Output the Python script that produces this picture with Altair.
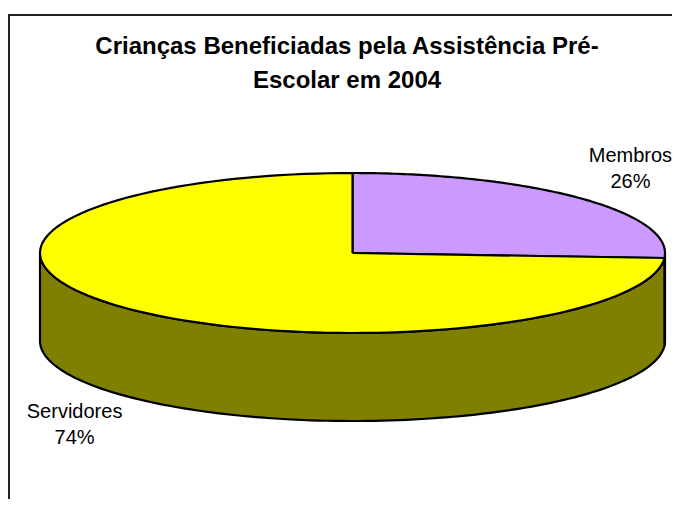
import altair as alt
import pandas as pd

# ---- data ----
categorias = ["Membros", "Servidores"]
valores = [26, 74]
ordem = [0, 1]
cores_topo = ["#CC99FF", "#FFFF00"]
cores_lado = ["#664C80", "#808000"]
titulo = ["Crianças Beneficiadas pela Assistência Pré-", "Escolar em 2004"]

df = pd.DataFrame({"categoria": categorias, "valor": valores, "ordem": ordem})

# ---- geometry of the 3-D pie (layout constants, page pixels) ----
CX, CY, RX, RY, DEPTH = 352.5, 253, 312.5, 80, 88
KX, KY = 1.22, 1.53
N = 120
PAD_TOP = 100
W, H = 664, 491 - PAD_TOP
FONT = "Liberation Sans"

xs = alt.Scale(domain=[8, 672], nice=False, zero=False)
ys = alt.Scale(domain=[8 + PAD_TOP, 499], nice=False, zero=False, reverse=True)

base = (
    alt.Chart(df)
    .transform_joinaggregate(total="sum(valor)")
    .transform_window(cum="sum(valor)", sort=[alt.SortField("ordem")], frame=[None, 0])
    .transform_calculate(a0="2*PI*(datum.cum - datum.valor)/datum.total")
    .transform_calculate(a1="2*PI*datum.cum/datum.total")
)

enc_xy = dict(
    x=alt.X("px:Q", scale=xs, axis=None),
    y=alt.Y("py:Q", scale=ys, axis=None),
    order=alt.Order("s:Q"),
)

# side (visible front part of the cylinder)
lado = (
    base.transform_calculate(b0="max(datum.a0, PI/2)")
    .transform_calculate(b1="min(datum.a1, 3*PI/2)")
    .transform_filter("datum.b1 > datum.b0")
    .transform_calculate(s=f"sequence(0, {2 * N + 3})")
    .transform_flatten(["s"])
    .transform_calculate(
        t=f"datum.s <= {N} ? datum.s : (datum.s <= {2 * N + 1} ? {2 * N + 1} - datum.s : 0)"
    )
    .transform_calculate(baixo=f"datum.s > {N} && datum.s <= {2 * N + 1}")
    .transform_calculate(ang=f"datum.b0 + (datum.b1 - datum.b0)*datum.t/{N}")
    .transform_calculate(px=f"{CX} + {RX}*sin(datum.ang)")
    .transform_calculate(py=f"{CY} - {RY}*cos(datum.ang) + (datum.baixo ? {DEPTH} : 0)")
    .mark_line(filled=True, stroke="black", strokeWidth=2.2, strokeJoin="round")
    .encode(
        color=alt.Color("categoria:N", scale=alt.Scale(domain=categorias, range=cores_lado), legend=None),
        **enc_xy,
    )
)

# top face slices
topo = (
    base.transform_calculate(s=f"sequence(-1, {N + 2})")
    .transform_flatten(["s"])
    .transform_calculate(ang=f"datum.a0 + (datum.a1 - datum.a0)*clamp(datum.s, 0, {N})/{N}")
    .transform_calculate(centro=f"datum.s < 0 || datum.s > {N}")
    .transform_calculate(px=f"datum.centro ? {CX} : {CX} + {RX}*sin(datum.ang)")
    .transform_calculate(py=f"datum.centro ? {CY} : {CY} - {RY}*cos(datum.ang)")
    .mark_line(filled=True, stroke="black", strokeWidth=2.2, strokeJoin="round")
    .encode(
        color=alt.Color("categoria:N", scale=alt.Scale(domain=categorias, range=cores_topo), legend=None),
        **enc_xy,
    )
)

# labels
rot = (
    base.transform_calculate(mid="(datum.a0 + datum.a1)/2")
    .transform_calculate(px=f"{CX} + {KX}*{RX}*sin(datum.mid)")
    .transform_calculate(py=f"{CY} - {KY}*{RY}*cos(datum.mid) + (cos(datum.mid) < 0 ? {DEPTH} : 0)")
    .transform_calculate(pct="format(datum.valor/datum.total, '.0%')")
)
rot_nome = rot.mark_text(font=FONT, fontSize=20, color="black", baseline="middle", dy=-13).encode(
    x=alt.X("px:Q", scale=xs, axis=None),
    y=alt.Y("py:Q", scale=ys, axis=None),
    text="categoria:N",
)
rot_pct = rot.mark_text(font=FONT, fontSize=20, color="black", baseline="middle", dy=13).encode(
    x=alt.X("px:Q", scale=xs, axis=None),
    y=alt.Y("py:Q", scale=ys, axis=None),
    text="pct:N",
)

# chart border (top and left edges visible in the frame)
borda = alt.Chart(alt.Data(values=[{}]))
borda_topo = borda.mark_rule(color="#222222", strokeWidth=2).encode(
    x=alt.value(0), x2=alt.value(W), y=alt.value(15 - 8 - PAD_TOP)
)
borda_esq = borda.mark_rule(color="#222222", strokeWidth=2).encode(
    x=alt.value(1), y=alt.value(15 - 8 - PAD_TOP), y2=alt.value(H)
)

chart = (
    alt.layer(lado, topo, rot_nome, rot_pct, borda_topo, borda_esq)
    .resolve_scale(color="independent")
    .properties(
        width=W,
        height=H,
        padding={"left": 0, "top": PAD_TOP, "right": 0, "bottom": 0},
        autosize=alt.AutoSizeParams(type="none"),
        background="white",
        title=alt.TitleParams(
            text=titulo,
            font=FONT,
            fontSize=24,
            fontWeight="bold",
            color="black",
            anchor="middle",
            lineHeight=34,
            offset=-79,
            dx=7,
        ),
    )
    .configure_view(stroke=None)
)

chart.save("out.html", embed_options={"renderer": "svg", "actions": False})
